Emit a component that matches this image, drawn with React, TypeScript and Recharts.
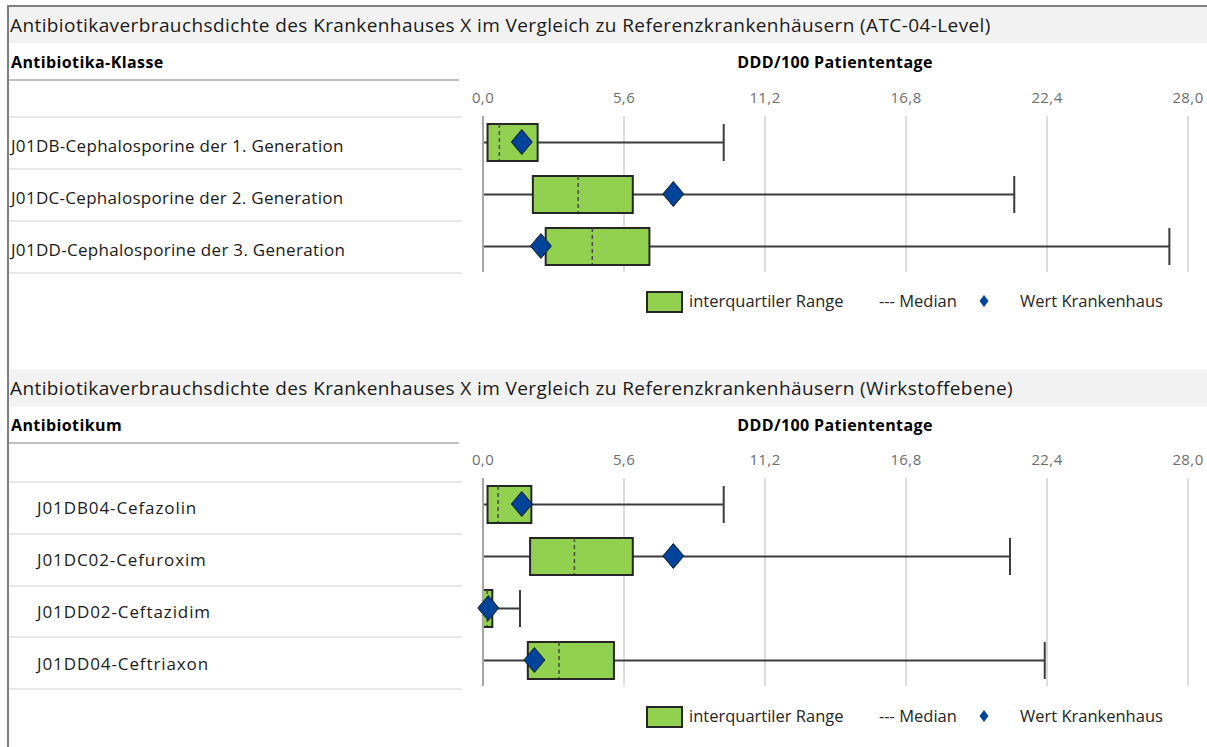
import React from 'react';
import { ComposedChart, Bar, Line, XAxis, YAxis, CartesianGrid } from 'recharts';

// ATC-04-Level (Antibiotika-Klasse)
const classNames = [
  'J01DB-Cephalosporine der 1. Generation',
  'J01DC-Cephalosporine der 2. Generation',
  'J01DD-Cephalosporine der 3. Generation',
];
const classMin = [0, 0, 0];
const classQ1 = [0.18, 1.98, 2.49];
const classMedian = [0.65, 3.78, 4.34];
const classQ3 = [2.17, 5.95, 6.61];
const classMax = [9.56, 21.1, 27.26];
const classHospital = [1.54, 7.56, 2.3];

// Wirkstoffebene (Antibiotikum)
const drugNames = ['J01DB04-Cefazolin', 'J01DC02-Cefuroxim', 'J01DD02-Ceftazidim', 'J01DD04-Ceftriaxon'];
const drugMin = [0, 0, 0, 0];
const drugQ1 = [0.18, 1.87, 0, 1.78];
const drugMedian = [0.6, 3.63, 0.17, 3.02];
const drugQ3 = [1.92, 5.95, 0.37, 5.2];
const drugMax = [9.56, 20.93, 1.47, 22.31];
const drugHospital = [1.54, 7.56, 0.21, 2.04];

const xTicks = [0, 5.6, 11.2, 16.8, 22.4, 28];

const FONT = '"Open Sans", "Noto Sans", sans-serif';
const BOX_H = 37;

const fmt = (v: number) => v.toFixed(1).replace('.', ',');

function buildRows(names: string[], min: number[], q1: number[], med: number[], q3: number[], max: number[], hosp: number[]) {
  return names.map((name, i) => ({
    name,
    whisker: [min[i], max[i]],
    box: [q1[i], q3[i]],
    median: med[i],
    hospital: hosp[i],
  }));
}

const classRows = buildRows(classNames, classMin, classQ1, classMedian, classQ3, classMax, classHospital);
const drugRows = buildRows(drugNames, drugMin, drugQ1, drugMedian, drugQ3, drugMax, drugHospital);

const Whisker = (p: any) => {
  const { x, y, width, height } = p;
  const cy = y + height / 2;
  return (
    <g stroke="#3c3c3c" strokeWidth={2}>
      <line x1={x} x2={x + width} y1={cy} y2={cy} />
      <line x1={x} x2={x} y1={y} y2={y + height} />
      <line x1={x + width} x2={x + width} y1={y} y2={y + height} />
    </g>
  );
};

const MedianMark = (p: any) => {
  const { cx, cy, index } = p;
  if (cx == null || cy == null) return <g key={index} />;
  return (
    <line key={index} x1={cx} x2={cx} y1={cy - 18} y2={cy + 18} stroke="#4a4a4a" strokeWidth={1.5} strokeDasharray="4 3" />
  );
};

const Diamond = (p: any) => {
  const { cx, cy, index } = p;
  if (cx == null || cy == null) return <g key={index} />;
  return (
    <path
      key={index}
      d={`M${cx},${cy - 12.5} L${cx + 10.5},${cy} L${cx},${cy + 12.5} L${cx - 10.5},${cy} Z`}
      fill="#00439b"
      stroke="#1a1a1a"
      strokeWidth={1}
    />
  );
};

function BoxChart({ rows, labelX, labelSpacing }: { rows: any[]; labelX: number; labelSpacing: number }) {
  const height = 36 + rows.length * 52 + 4;
  const XTick = (p: any) => (
    <text
      x={p.x}
      y={17}
      textAnchor="middle"
      dominantBaseline="central"
      fontSize={15}
      letterSpacing={0.4}
      fill="#6e6e6e"
      fontFamily={FONT}
    >
      {fmt(p.payload.value)}
    </text>
  );
  const YTick = (p: any) => (
    <text
      x={labelX}
      y={p.y + 3}
      textAnchor="start"
      dominantBaseline="central"
      fontSize={17}
      letterSpacing={labelSpacing}
      fill="#1a1a1a"
      fontFamily={FONT}
    >
      {p.payload.value}
    </text>
  );
  return (
    <ComposedChart
      width={1207}
      height={height}
      data={rows}
      layout="vertical"
      margin={{ top: 0, right: 19, bottom: 4, left: 0 }}
      barGap={-BOX_H}
    >
      <CartesianGrid horizontal={false} stroke="#d2d2d2" strokeWidth={1.5} />
      <XAxis
        type="number"
        orientation="top"
        domain={[0, 28]}
        ticks={xTicks}
        height={36}
        axisLine={false}
        tickLine={false}
        tick={XTick}
        interval={0}
      />
      <YAxis
        type="category"
        dataKey="name"
        width={483}
        axisLine={{ stroke: '#a6a6a6', strokeWidth: 2 }}
        tickLine={false}
        tick={YTick}
        interval={0}
      />
      <Bar dataKey="whisker" barSize={BOX_H} shape={Whisker} isAnimationActive={false} />
      <Bar dataKey="box" barSize={BOX_H} fill="#92d050" stroke="#262626" strokeWidth={2} isAnimationActive={false} />
      <Line dataKey="median" stroke="none" dot={MedianMark} activeDot={false} isAnimationActive={false} />
      <Line dataKey="hospital" stroke="none" dot={Diamond} activeDot={false} isAnimationActive={false} />
    </ComposedChart>
  );
}

function Legend({ top }: { top: number }) {
  const txt: React.CSSProperties = {
    position: 'absolute',
    top: 0,
    lineHeight: '22px',
    fontSize: 16.5,
    color: '#262626',
    whiteSpace: 'nowrap',
  };
  return (
    <div style={{ position: 'absolute', left: 0, top, width: 1207, height: 22 }}>
      <div style={{ position: 'absolute', left: 646, top: 1, width: 33, height: 18, background: '#92d050', border: '2px solid #262626' }} />
      <div style={{ ...txt, left: 689 }}>interquartiler Range</div>
      <div style={{ ...txt, left: 879 }}>--- Median</div>
      <svg style={{ position: 'absolute', left: 978, top: 4 }} width={12} height={14}>
        <path d="M6,1 L10.5,7 L6,13 L1.5,7 Z" fill="#00439b" />
      </svg>
      <div style={{ ...txt, left: 1020 }}>Wert Krankenhaus</div>
    </div>
  );
}

function Panel({
  top,
  title,
  header,
  rows,
  labelX,
  labelSpacing,
  rowLines,
  headerLineY,
  chartTop,
  legendTop,
  titleH,
}: any) {
  const bold: React.CSSProperties = {
    position: 'absolute',
    top: headerLineY - 27,
    fontSize: 16,
    fontWeight: 700,
    letterSpacing: 0.4,
    color: '#000',
    lineHeight: '20px',
    whiteSpace: 'nowrap',
  };
  return (
    <>
      <div
        style={{
          position: 'absolute',
          left: 9,
          top,
          width: 1198,
          height: titleH,
          background: '#f2f2f2',
          lineHeight: `${titleH}px`,
          fontSize: 19,
          letterSpacing: 0.4,
          color: '#1a1a1a',
          paddingLeft: 1,
          whiteSpace: 'nowrap',
        }}
      >
        {title}
      </div>
      <div style={{ ...bold, left: 11 }}>{header}</div>
      <div style={{ ...bold, left: 715, width: 240, textAlign: 'center' }}>DDD/100 Patiententage</div>
      <div style={{ position: 'absolute', left: 9, top: headerLineY, width: 450, height: 2, background: '#c0c0c0' }} />
      {rowLines.map((y: number) => (
        <div key={y} style={{ position: 'absolute', left: 9, top: y, width: 453, height: 2, background: '#e8e8e8' }} />
      ))}
      <div style={{ position: 'absolute', left: 0, top: chartTop }}>
        <BoxChart rows={rows} labelX={labelX} labelSpacing={labelSpacing} />
      </div>
      <Legend top={legendTop} />
    </>
  );
}

export default function App() {
  return (
    <div
      style={{
        position: 'absolute',
        left: 0,
        top: 0,
        width: 1207,
        height: 747,
        background: '#fff',
        fontFamily: FONT,
        overflow: 'hidden',
      }}
    >
      <div style={{ position: 'absolute', left: 7, top: 5, width: 1200, height: 2, background: '#7f7f7f' }} />
      <div style={{ position: 'absolute', left: 7, top: 5, width: 2, height: 742, background: '#7f7f7f' }} />
      <Panel
        top={7}
        titleH={36}
        title="Antibiotikaverbrauchsdichte des Krankenhauses X im Vergleich zu Referenzkrankenhäusern (ATC-04-Level)"
        header="Antibiotika-Klasse"
        rows={classRows}
        labelX={11}
        labelSpacing={0.3}
        headerLineY={79}
        rowLines={[116, 168, 220, 272]}
        chartTop={80}
        legendTop={290}
      />
      <Panel
        top={369}
        titleH={38}
        title="Antibiotikaverbrauchsdichte des Krankenhauses X im Vergleich zu Referenzkrankenhäusern (Wirkstoffebene)"
        header="Antibiotikum"
        rows={drugRows}
        labelX={37}
        labelSpacing={0.9}
        headerLineY={442}
        rowLines={[481, 533, 585, 636, 688]}
        chartTop={442}
        legendTop={705}
      />
    </div>
  );
}
